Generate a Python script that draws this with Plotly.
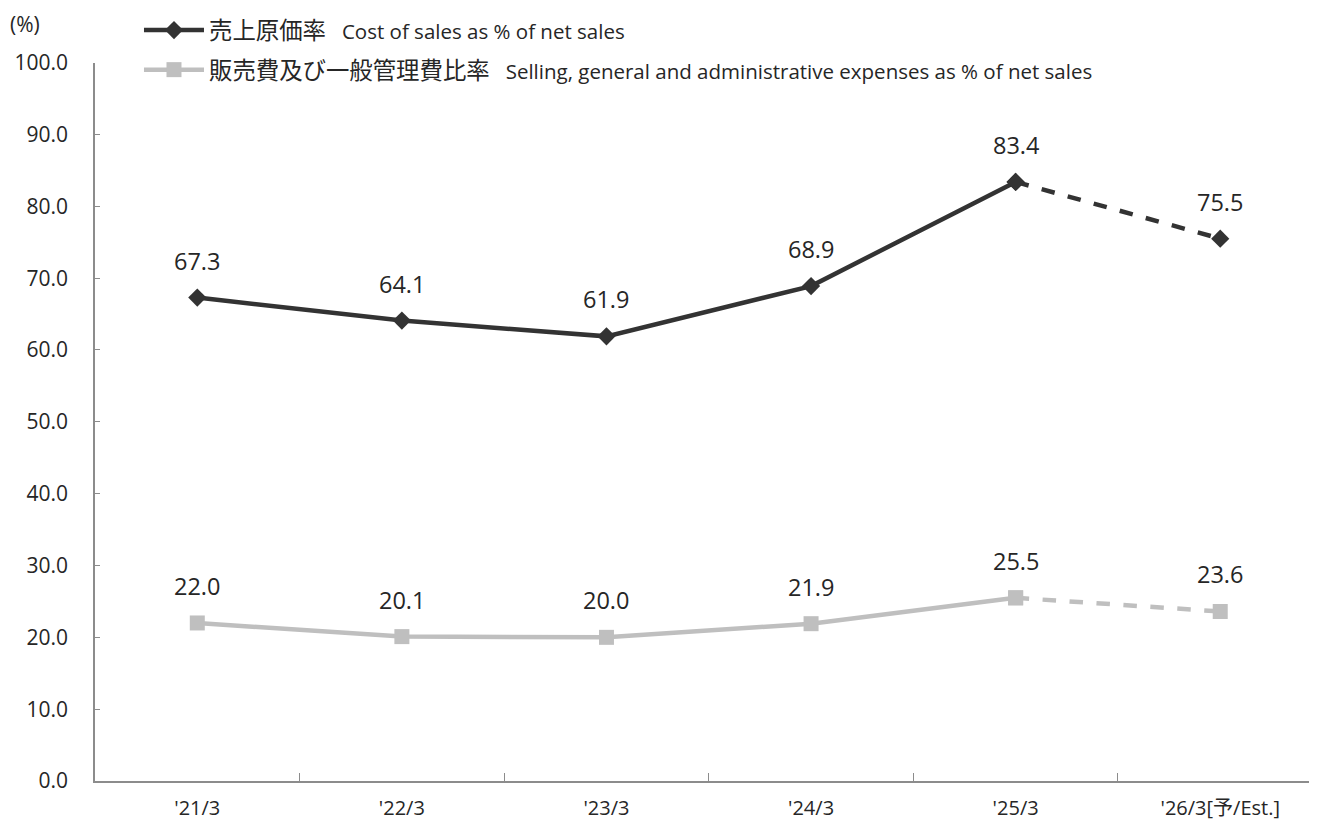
import plotly.graph_objects as go

categories = ["'21/3", "'22/3", "'23/3", "'24/3", "'25/3", "'26/3[予/Est.]"]
cost_ratio = [67.3, 64.1, 61.9, 68.9, 83.4, 75.5]
sga_ratio = [22.0, 20.1, 20.0, 21.9, 25.5, 23.6]
n_actual = 5  # last point is an estimate -> dashed segment

cost_name = ("売上原価率<span style='font-size:20.5px'>&nbsp;&nbsp;&nbsp;"
             "Cost of sales as % of net sales</span>")
sga_name = ("販売費及び一般管理費比率<span style='font-size:20.5px'>&nbsp;&nbsp;&nbsp;"
            "Selling, general and administrative expenses as % of net sales</span>")

DARK = "#333333"
GRAY = "#BFBFBF"
FONT = "Open Sans, Noto Sans CJK JP, sans-serif"

fig = go.Figure()

def add_series(values, name, color, symbol, size, legend):
    fig.add_trace(go.Scatter(
        x=categories[:n_actual], y=values[:n_actual], name=name,
        mode="lines+markers", line=dict(color=color, width=4.5),
        marker=dict(symbol=symbol, size=size, color=color),
        legend=legend, hoverinfo="x+y",
    ))
    fig.add_trace(go.Scatter(
        x=categories[n_actual - 1:], y=values[n_actual - 1:], name=name,
        mode="lines+markers", line=dict(color=color, width=4.5, dash="dash"),
        marker=dict(symbol=symbol, size=size, color=color),
        legend=legend, showlegend=False, hoverinfo="x+y",
    ))
    for c, v in zip(categories, values):
        fig.add_annotation(x=c, y=v, text=f"{v:.1f}", showarrow=False, yshift=37,
                           font=dict(size=23.5, color="#262626", family=FONT))

add_series(sga_ratio, sga_name, GRAY, "square", 15, "legend2")
add_series(cost_ratio, cost_name, DARK, "diamond", 14, "legend")

# page body adds an 8px margin, so the figure is 8px smaller than the window.
# y axis domain leaves room at the top so the legends sit inside the paper
fig.add_annotation(text="(%)", xref="paper", yref="paper", x=-0.0712, y=0.99,
                   xanchor="left", yanchor="middle", showarrow=False,
                   font=dict(size=21, color="#262626", family=FONT))

legend_style = dict(xanchor="left", yanchor="middle", orientation="v",
                    bgcolor="rgba(0,0,0,0)", itemwidth=60,
                    font=dict(size=23.4, color="#262626", family=FONT))

fig.update_layout(
    width=1309, height=814,
    margin=dict(l=87, r=0, t=0, b=41),
    paper_bgcolor="white", plot_bgcolor="white",
    font=dict(family=FONT, color="#262626"),
    legend=dict(x=0.036, y=0.9812, **legend_style),
    legend2=dict(x=0.036, y=0.9295, **legend_style),
    xaxis=dict(
        type="category", range=[-0.5, 5.473], automargin=False,
        showline=True, linecolor="#8C8C8C", linewidth=2,
        ticks="inside", tickson="boundaries", ticklen=8, tickcolor="#8C8C8C",
        showgrid=False, zeroline=False, ticklabelstandoff=8,
        tickfont=dict(size=20, color="#262626", family=FONT),
    ),
    yaxis=dict(
        range=[0, 100], dtick=10, tickformat=".1f", domain=[0, 0.939],
        automargin=False,
        showline=True, linecolor="#8C8C8C", linewidth=1.5,
        ticks="inside", ticklen=5, tickcolor="#8C8C8C",
        showgrid=False, zeroline=False, ticklabelstandoff=21,
        tickfont=dict(size=21, color="#262626", family=FONT),
    ),
)

fig.write_html("out.html")
